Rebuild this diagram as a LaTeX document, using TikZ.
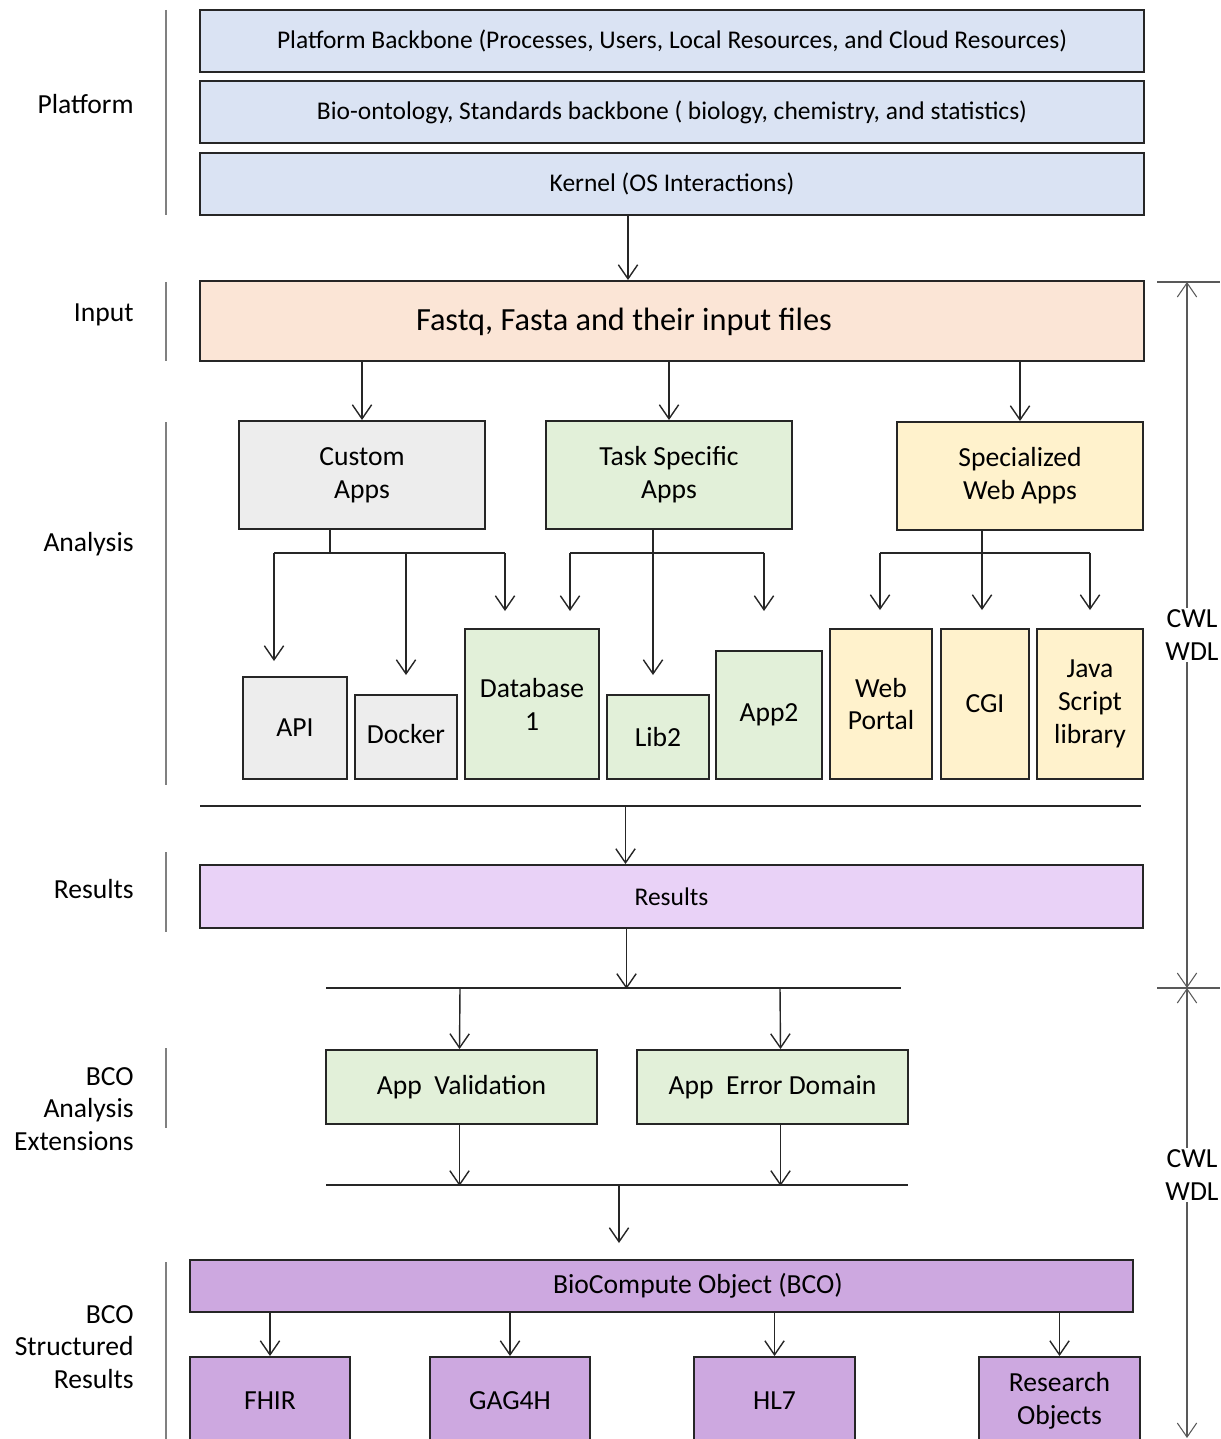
\documentclass[tikz,border=0pt]{standalone}
\usepackage{fontspec}
\setmainfont{Carlito}
\usepackage{tikz}
\usetikzlibrary{positioning,calc,arrows.meta}
\definecolor{platblue}{HTML}{DAE3F3}
\definecolor{inpeach}{HTML}{FBE5D6}
\definecolor{appgray}{HTML}{EDEDED}
\definecolor{appgreen}{HTML}{E2F0D9}
\definecolor{appyellow}{HTML}{FFF2CC}
\definecolor{reslilac}{HTML}{E9D2F7}
\definecolor{bcopurple}{HTML}{CDA8E0}
\tikzstyle{layer} = [rectangle, draw=black!85, line width=1.1pt, inner sep=0pt, align=center]
\tikzstyle{side} = [inner sep=0pt, align=right, anchor=east]
\tikzstyle{wire} = [line width=0.8pt, draw=black!85]
\tikzstyle{arrow} = [wire, -{Straight Barb[length=8pt,width=11pt]}]
\tikzstyle{sep} = [line width=0.8pt, draw=gray]
\tikzstyle{span} = [line width=0.6pt, draw=black!65, {Straight Barb[length=8pt,width=11pt]}-{Straight Barb[length=8pt,width=11pt]}]

\begin{document}
\begin{tikzpicture}[x=0.02cm, y=-0.02cm, every node/.style={font=\fontsize{15.7}{18.7}\selectfont}]
\clip (0,0) rectangle (1220,1439);

% Layer labels
\foreach \ya/\yb in {10/215, 282/361, 422/785, 852/932, 1048/1128, 1262/1445}
  \draw[sep] (166,\ya) -- (166,\yb);
\node (lplatform) [side] at (134,104) {Platform};
\node (linput) [side] at (134,315) {Input};
\node (lanalysis) [side] at (134,544) {Analysis};
\node (lresults) [side] at (134,889) {Results};
\node (lext) [side] at (134,1109) {BCO\\Analysis\\Extensions};
\node (lstruct) [side] at (134,1347) {BCO\\Structured\\Results};

% Platform
\node (backbone) [layer, fill=platblue, minimum width=18.88cm, minimum height=1.24cm] at (672,41) {\fontsize{14.5}{17}\selectfont Platform Backbone (Processes, Users, Local Resources, and Cloud Resources)};
\node (ontology) [layer, fill=platblue, minimum width=18.88cm, minimum height=1.24cm] at (672,112) {\fontsize{14.5}{17}\selectfont Bio-ontology, Standards backbone ( biology, chemistry, and statistics)};
\node (kernel) [layer, fill=platblue, minimum width=18.88cm, minimum height=1.24cm] at (672,184) {\fontsize{14.5}{17}\selectfont Kernel (OS Interactions)};

% Input
\node (input) [layer, fill=inpeach, minimum width=18.88cm, minimum height=1.6cm] at (672,321) {};
\node (inputtxt) at (624,322) {\fontsize{18.4}{22}\selectfont Fastq, Fasta and their input files};
\draw[arrow] ($(kernel.south)+(-44,0)$) -- ($(input.north)+(-44,0)$);

% Analysis
\node (custom) [layer, fill=appgray, minimum width=4.92cm, minimum height=2.16cm] at (362,475) {Custom\\Apps};
\node (task) [layer, fill=appgreen, minimum width=4.92cm, minimum height=2.16cm] at (669,475) {Task Specific\\Apps};
\node (webapps) [layer, fill=appyellow, minimum width=4.92cm, minimum height=2.16cm] at (1020,476) {Specialized\\Web Apps};
\draw[arrow] (input.south -| custom.north) -- (custom.north);
\draw[arrow] (input.south -| task.north) -- (task.north);
\draw[arrow] (input.south -| webapps.north) -- (webapps.north);

\node (api) [layer, fill=appgray, minimum width=2.08cm, minimum height=2.04cm] at (295,728) {API};
\node (docker) [layer, fill=appgray, minimum width=2.04cm, minimum height=1.68cm] at (406,737) {\raisebox{4pt}{Docker}};
\node (db) [layer, fill=appgreen, minimum width=2.68cm, minimum height=3cm] at (532,704) {Database\\1};
\node (lib) [layer, fill=appgreen, minimum width=2.04cm, minimum height=1.68cm] at (658,737) {Lib2};
\node (app2) [layer, fill=appgreen, minimum width=2.12cm, minimum height=2.56cm] at (769,715) {App2};
\node (portal) [layer, fill=appyellow, minimum width=2.04cm, minimum height=3cm] at (881,704) {Web\\Portal};
\node (cgi) [layer, fill=appyellow, minimum width=1.76cm, minimum height=3cm] at (985,704) {CGI};
\node (jslib) [layer, fill=appyellow, minimum width=2.12cm, minimum height=3cm] at (1090,704) {Java\\Script\\library};

% Custom Apps branch
\coordinate (cL) at (274,553);
\coordinate (cR) at (505,553);
\draw[wire] ($(custom.south)+(-32,0)$) -- ($(custom.south)+(-32,24)$);
\draw[wire] (cL) -- (cR);
\draw[arrow] (cL) -- ($(api.north)+(-21,-15)$);
\draw[arrow] (cL -| docker.north) -- ($(docker.north)+(0,-19)$);
\draw[arrow] (cR) -- ($(db.north)+(-27,-17)$);

% Task Specific branch
\coordinate (tL) at (570,553);
\coordinate (tR) at (764,553);
\draw[wire] (tL) -- (tR);
\draw[arrow] ($(task.south)+(-16,0)$) -- ($(lib.north)+(-5,-19)$);
\draw[arrow] (tL) -- ($(tL)+(0,58)$);
\draw[arrow] (tR) -- ($(tR)+(0,58)$);

% Web Apps branch
\coordinate (wL) at (880,553);
\coordinate (wR) at (1090,553);
\draw[wire] (wL) -- (wR);
\draw[arrow] ($(webapps.south)+(-38,0)$) -- ($(cgi.north)+(-3,-18)$);
\draw[arrow] (wL) -- ($(portal.north)+(-1,-18)$);
\draw[arrow] (wR) -- ($(jslib.north)+(0,-18)$);

% Results
\node (results) [layer, fill=reslilac, minimum width=18.86cm, minimum height=1.26cm] at (671.5,896.5) {\fontsize{14.5}{17}\selectfont Results};
\coordinate (aL) at (200,806);
\coordinate (aR) at (1141,806);
\draw[wire] (aL) -- (aR);
\draw[arrow] ($(results.north)+(-46,-59)$) -- ($(results.north)+(-46,0)$);

% BCO analysis extensions
\coordinate (xL) at (326,988);
\coordinate (xR) at (901,988);
\draw[wire] (xL) -- (xR);
\draw[arrow] ($(results.south)+(-45,0)$) -- ($(results.south)+(-45,60)$);
\node (valid) [layer, fill=appgreen, minimum width=5.42cm, minimum height=1.48cm] at (461.5,1087) {App\ \ Validation};
\node (errdom) [layer, fill=appgreen, minimum width=5.42cm, minimum height=1.48cm] at (772.5,1087) {App\ \ Error Domain};
\draw[arrow] ($(xL)+(134,0)$) -- ($(valid.north)+(-2,0)$);
\draw[arrow] ($(xL)+(454,0)$) -- ($(errdom.north)+(8,0)$);
\coordinate (yL) at (326,1185);
\coordinate (yR) at (908,1185);
\draw[wire] (yL) -- (yR);
\draw[arrow] ($(valid.south)+(-2,0)$) -- ($(valid.south)+(-2,61)$);
\draw[arrow] ($(errdom.south)+(8,0)$) -- ($(errdom.south)+(8,61)$);

% BCO structured results
\node (bco) [layer, fill=bcopurple, minimum width=18.86cm, minimum height=1.04cm] at (661.5,1286) {};
\node (bcotxt) at (698,1286) {BioCompute Object (BCO)};
\draw[arrow] ($(yL)+(293,0)$) -- ($(yL)+(293,58)$);
\node (fhir) [layer, fill=bcopurple, minimum width=3.2cm, minimum height=1.76cm] at (270,1401) {FHIR};
\node (gag) [layer, fill=bcopurple, minimum width=3.2cm, minimum height=1.76cm] at (510,1401) {GAG4H};
\node (hl) [layer, fill=bcopurple, minimum width=3.22cm, minimum height=1.76cm] at (774.5,1401) {HL7};
\node (ro) [layer, fill=bcopurple, minimum width=3.22cm, minimum height=1.76cm] at (1059.5,1401) {Research\\Objects};
\foreach \n in {fhir, gag, hl, ro}
  \draw[arrow] (bco.south -| \n.north) -- (\n.north);

% CWL / WDL spans
\coordinate (s1) at (1187,282);
\coordinate (s2) at (1187,988);
\coordinate (s3) at (1187,1438);
\draw[span, -] (1157,282) -- (1220,282);
\draw[span, -] (1157,988) -- (1220,988);
\draw[span] (s1) -- (s2);
\draw[span] (s2) -- (s3);
\node (cwl1) [fill=white, inner sep=1pt, align=center] at (1192,635) {CWL\\WDL};
\node (cwl2) [fill=white, inner sep=1pt, align=center] at (1192,1175) {CWL\\WDL};

\end{tikzpicture}
\end{document}
